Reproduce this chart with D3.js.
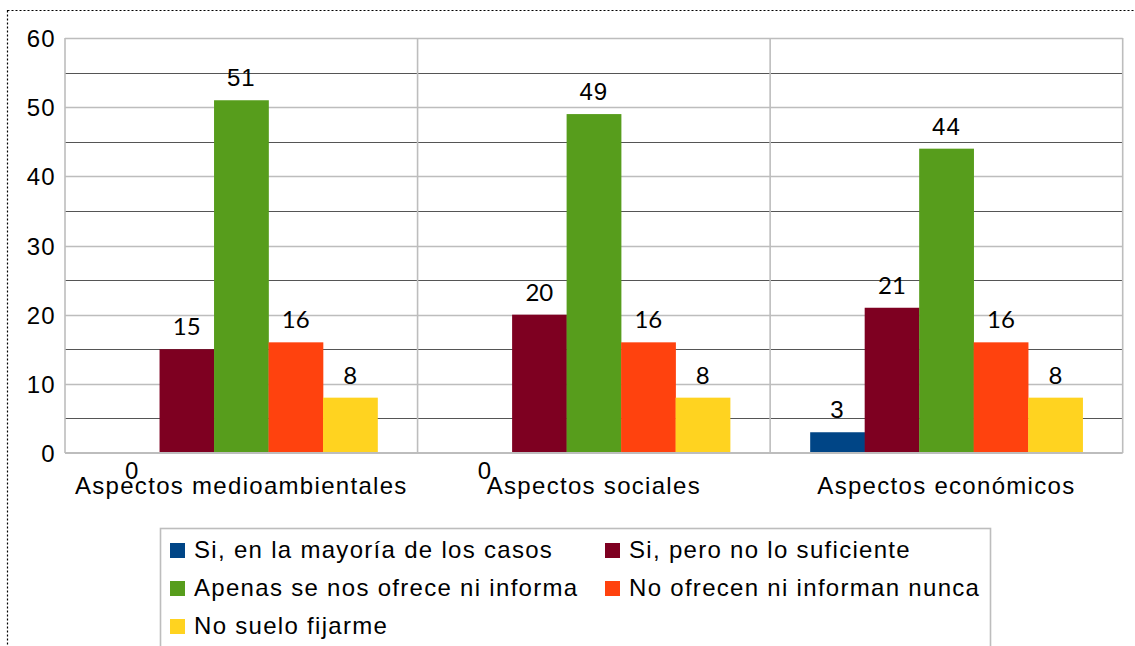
<!DOCTYPE html>
<html>
<head>
<meta charset="utf-8">
<style>
  body { margin: 0; background: #fff; }
  svg { display: block; font-family: "Liberation Sans", Arial, sans-serif; }
  .lbl { font-size: 24px; letter-spacing: 1.3px; fill: #000; }
</style>
<script src="https://cdn.jsdelivr.net/npm/d3@7"></script>
</head>
<body>
<script>
// chart data
var categories = ["Aspectos medioambientales", "Aspectos sociales", "Aspectos económicos"];
var seriesNames = ["Si, en la mayoría de los casos", "Si, pero no lo suficiente",
                   "Apenas se nos ofrece ni informa", "No ofrecen ni informan nunca",
                   "No suelo fijarme"];
var siMayoria  = [0, 0, 3];
var siPeroNo   = [15, 20, 21];
var apenas     = [51, 49, 44];
var noOfrecen  = [16, 16, 16];
var noSuelo    = [8, 8, 8];
var yTicks     = [0, 10, 20, 30, 40, 50, 60];

var seriesValues = [siMayoria, siPeroNo, apenas, noOfrecen, noSuelo];
var colors = ["#004586", "#7e0021", "#579d1c", "#ff420e", "#ffd320"];
// value labels of some series come out in a Calibri-like face in the original
var labelFonts = ["Liberation Sans", "Lato", "Liberation Sans", "Lato", "Lato"];

var W = 1135, H = 646;
var plotL = 65, plotR = 1122.7, plotT = 38, plotB = 453;

var svg = d3.select("body").append("svg")
    .attr("width", W)
    .attr("height", H);

// dotted outer frame
svg.append("rect")
    .attr("x", 7.5).attr("y", 10.5)
    .attr("width", W + 20).attr("height", H + 20)
    .attr("fill", "none")
    .attr("stroke", "#000")
    .attr("stroke-width", 1.2)
    .attr("stroke-dasharray", "2,2");

var x0 = d3.scaleBand()
    .domain(categories)
    .range([plotL, plotR])
    .padding(0);

var x1 = d3.scaleBand()
    .domain(d3.range(seriesNames.length))
    .range([0, x0.bandwidth()])
    .paddingInner(0)
    .paddingOuter(0.735);

var y = d3.scaleLinear()
    .domain([0, 60])
    .range([plotB, plotT]);

// horizontal grid, every 5 (tens light, fives dark)
var grid = svg.append("g");
grid.selectAll("line")
    .data(d3.range(5, 61, 5))
    .enter().append("line")
    .attr("x1", plotL).attr("x2", plotR)
    .attr("y1", d => Math.round(y(d)) + 0.5)
    .attr("y2", d => Math.round(y(d)) + 0.5)
    .attr("stroke", d => d % 10 === 0 ? "#bdbdbd" : "#555")
    .attr("stroke-width", d => d % 10 === 0 ? 1.6 : 1.2);

// vertical separators between categories
grid.selectAll(".vsep")
    .data(categories.map(c => x0(c)).concat([plotR]))
    .enter().append("line")
    .attr("class", "vsep")
    .attr("x1", d => d).attr("x2", d => d)
    .attr("y1", plotT).attr("y2", plotB)
    .attr("stroke", "#bdbdbd")
    .attr("stroke-width", 1.6);

// bars
var groups = svg.selectAll(".cat")
    .data(categories)
    .enter().append("g")
    .attr("class", "cat")
    .attr("transform", d => "translate(" + x0(d) + ",0)");

groups.selectAll("rect")
    .data((c, ci) => seriesValues.map((s, si) => ({si: si, v: s[ci]})))
    .enter().append("rect")
    .attr("x", d => x1(d.si))
    .attr("width", x1.bandwidth() + 0.3)
    .attr("y", d => y(d.v))
    .attr("height", d => y(0) - y(d.v))
    .attr("fill", d => colors[d.si]);

// bottom axis line
svg.append("line")
    .attr("x1", plotL).attr("x2", plotR)
    .attr("y1", plotB).attr("y2", plotB)
    .attr("stroke", "#bdbdbd")
    .attr("stroke-width", 2);

// value labels
groups.selectAll("text")
    .data((c, ci) => seriesValues.map((s, si) => ({si: si, v: s[ci]})))
    .enter().append("text")
    .attr("class", "lbl")
    .attr("text-anchor", "middle")
    .style("font-family", d => labelFonts[d.si])
    .style("letter-spacing", d => labelFonts[d.si] === "Lato" ? "0px" : "1px")
    .attr("x", d => x1(d.si) + x1.bandwidth() / 2)
    .attr("y", d => d.v === 0 ? y(0) + 26 : y(d.v) - 14)
    .text(d => d.v);

// y axis labels
var yAxis = d3.axisLeft(y).tickValues(yTicks).tickSize(0).tickPadding(9);
svg.append("g")
    .attr("transform", "translate(" + plotL + ",0)")
    .call(yAxis)
    .call(g => g.select(".domain").remove())
    .selectAll("text")
    .attr("class", "lbl")
    .attr("dy", "0.36em")
    .style("font-family", "Liberation Sans")
    .style("font-size", "24px");

// category labels
var xAxis = d3.axisBottom(x0).tickSize(0).tickPadding(24);
svg.append("g")
    .attr("transform", "translate(0," + plotB + ")")
    .call(xAxis)
    .call(g => g.select(".domain").remove())
    .selectAll("text")
    .attr("class", "lbl")
    .style("font-family", "Liberation Sans")
    .style("font-size", "24px");

// legend
var legend = svg.append("g");
legend.append("rect")
    .attr("x", 160.5).attr("y", 528.5)
    .attr("width", 830).attr("height", 200)
    .attr("fill", "#fff")
    .attr("stroke", "#bdbdbd")
    .attr("stroke-width", 1.6);

var colX = [170, 605], rowY = [543, 581, 619];
var items = legend.selectAll(".item")
    .data(seriesNames)
    .enter().append("g")
    .attr("class", "item")
    .attr("transform", (d, i) => "translate(" + colX[i % 2] + "," + rowY[Math.floor(i / 2)] + ")");

items.append("rect")
    .attr("width", 15).attr("height", 15)
    .attr("fill", (d, i) => colors[i]);

items.append("text")
    .attr("class", "lbl")
    .attr("x", 24)
    .attr("y", 15)
    .text(d => d);
</script>
</body>
</html>
